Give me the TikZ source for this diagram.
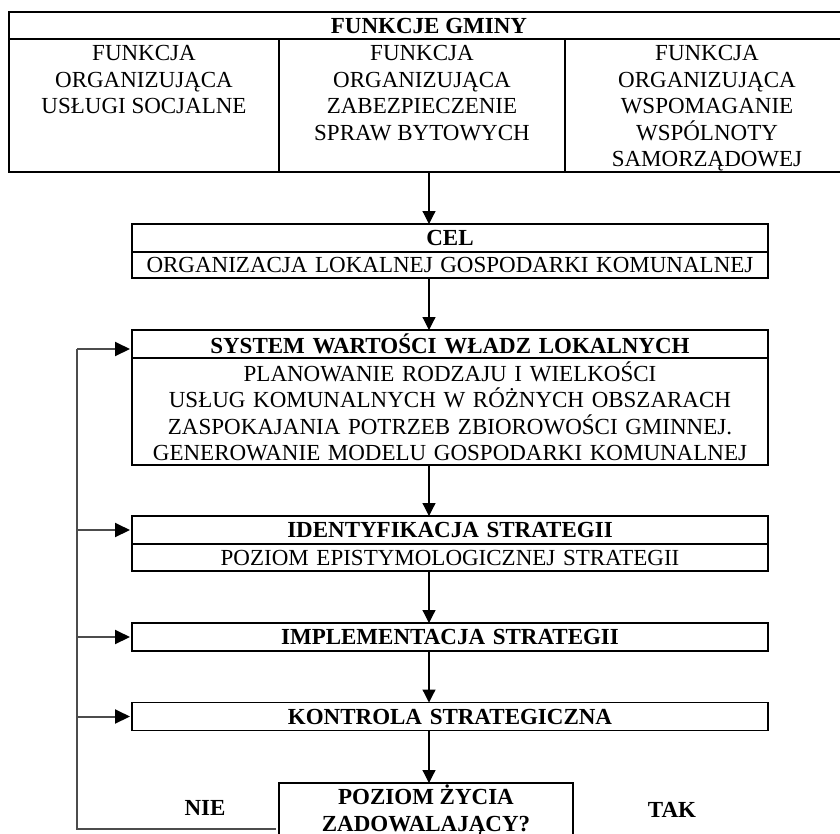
\documentclass[tikz,border=0pt]{standalone}
\usepackage{fontspec}
\setmainfont{Liberation Serif}
\usetikzlibrary{positioning, arrows.meta, calc}

\begin{document}
\begin{tikzpicture}[x=1pt, y=-1pt,
    every node/.style={font=\fontsize{23}{26.5}\selectfont, inner sep=0pt, outer sep=0pt},
    box/.style={draw, line width=1.2pt, minimum width=636pt, text width=630pt, align=center},
    head/.style={box, minimum height=28pt, font=\fontsize{23}{26.5}\selectfont\bfseries},
    body/.style={box, minimum height=#1},
    col/.style={draw, line width=1.2pt, minimum height=133pt, anchor=north west},
    lbl/.style={font=\fontsize{23}{26.5}\selectfont\bfseries},
    arr/.style={-{Triangle[length=13pt, width=13pt]}, line width=1.2pt},
    fb/.style={line width=2pt, draw=black!70},
    fbarr/.style={fb, -{Triangle[length=15pt, width=14pt, color=black]}, shorten >=2pt}]
    \clip (0,0) rectangle (840,833);

    % funkcje gminy
    \node[draw, line width=1.2pt, minimum width=840pt, minimum height=27pt, anchor=north west,
          font=\fontsize{23}{26.5}\selectfont\bfseries] (gminy) at (9,12) {FUNKCJE GMINY};
    \node[col, minimum width=270pt] (f1) at (9,39)
        {\parbox[c][127pt][t]{264pt}{\centering\strut FUNKCJA\\ ORGANIZUJĄCA\\ USŁUGI SOCJALNE}};
    \node[col, minimum width=286pt] (f2) at (279,39)
        {\parbox[c][127pt][t]{280pt}{\centering\strut FUNKCJA\\ ORGANIZUJĄCA\\ ZABEZPIECZENIE\\ SPRAW BYTOWYCH}};
    \node[col, minimum width=284pt] (f3) at (565,39)
        {\parbox[c][127pt][t]{278pt}{\centering\strut FUNKCJA\\ ORGANIZUJĄCA\\ WSPOMAGANIE\\ WSPÓLNOTY\\ SAMORZĄDOWEJ}};

    % etapy
    \node[head] (celhead) at (450,238) {CEL};
    \node[body=26pt] (celbody) [below=0pt of celhead] {ORGANIZACJA LOKALNEJ GOSPODARKI KOMUNALNEJ};

    \node[head] (syshead) at (450,344) {SYSTEM WARTOŚCI WŁADZ LOKALNYCH};
    \node[body=107pt] (sysbody) [below=0pt of syshead]
        {PLANOWANIE RODZAJU I WIELKOŚCI\\ USŁUG KOMUNALNYCH W RÓŻNYCH OBSZARACH\\
         ZASPOKAJANIA POTRZEB ZBIOROWOŚCI GMINNEJ.\\ GENEROWANIE MODELU GOSPODARKI KOMUNALNEJ};

    \node[head] (identhead) at (450,530) {IDENTYFIKACJA STRATEGII};
    \node[body=27pt] (identbody) [below=0pt of identhead] {POZIOM EPISTYMOLOGICZNEJ STRATEGII};

    \node[head] (impl) at (450,637) {IMPLEMENTACJA STRATEGII};
    \node[head] (kontr) at (450,716.5) {KONTROLA STRATEGICZNA};

    \node[draw, line width=1.2pt, minimum width=294pt, minimum height=60pt, anchor=north,
          font=\fontsize{23}{26.5}\selectfont\bfseries] (poziom) at (426,783)
        {\parbox[c][56pt][t]{288pt}{\centering\strut POZIOM ŻYCIA\\ ZADOWALAJĄCY?}};

    \node[lbl] (nie) at (205,808) {NIE};
    \node[lbl] (tak) at (672,810) {TAK};

    \coordinate (axis) at (429,0);
    \coordinate (corner) at (77,829);

    \draw[arr] (f2.south -| axis) -- (celhead.north -| axis);
    \draw[arr] (celbody.south -| axis) -- (syshead.north -| axis);
    \draw[arr] (sysbody.south -| axis) -- (identhead.north -| axis);
    \draw[arr] (identbody.south -| axis) -- (impl.north -| axis);
    \draw[arr] (impl.south -| axis) -- (kontr.north -| axis);
    \draw[arr] (kontr.south -| axis) -- (poziom.north -| axis);

    % petla zwrotna
    \draw[fb] ($(poziom.west)+(-3,16)$) -- (corner) -- ([yshift=-5pt]corner |- syshead.west);
    \draw[fbarr] ([yshift=-5pt]corner |- syshead.west) -- ([yshift=-5pt]syshead.west);
    \draw[fbarr] (corner |- identhead.west) -- (identhead.west);
    \draw[fbarr] (corner |- impl.west) -- (impl.west);
    \draw[fbarr] (corner |- kontr.west) -- (kontr.west);
\end{tikzpicture}
\end{document}
